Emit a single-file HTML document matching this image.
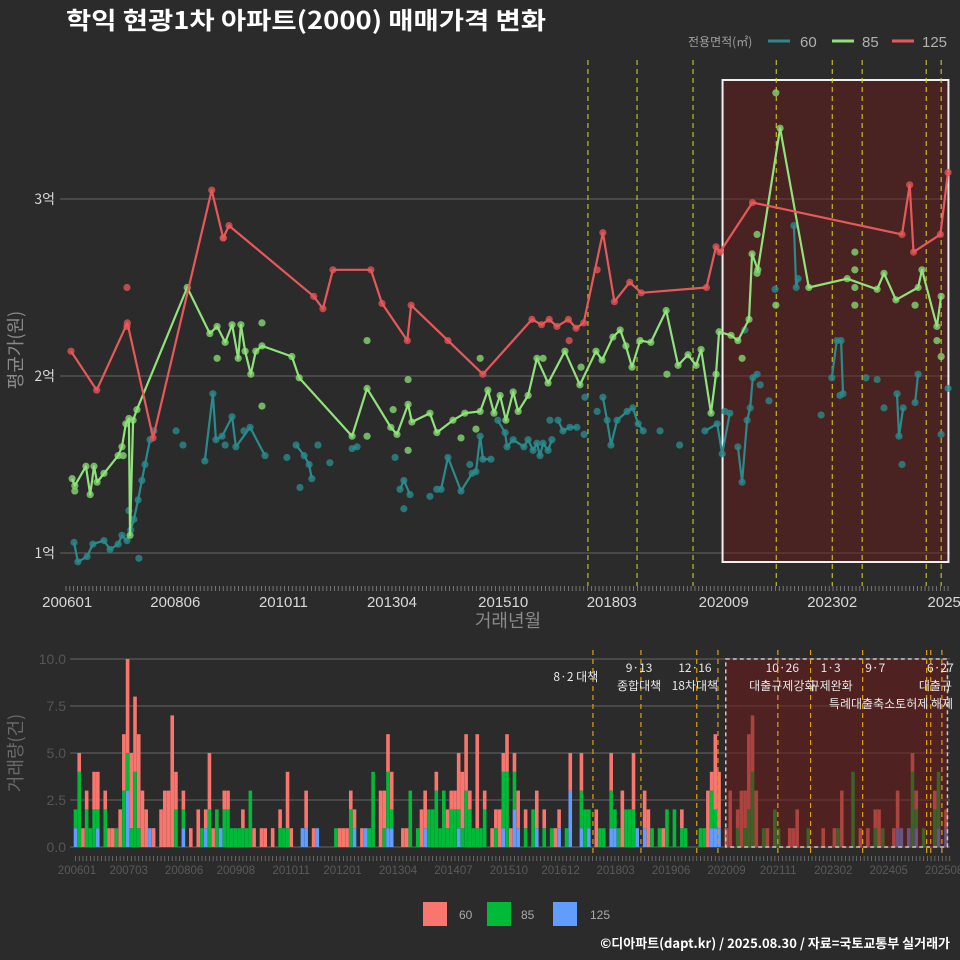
<!DOCTYPE html>
<html><head><meta charset="utf-8">
<style>
html,body{margin:0;padding:0;background:#2b2b2b;}
svg{display:block;font-family:"Liberation Sans","Noto Sans CJK KR",sans-serif;}
</style></head>
<body>
<svg id="chart" width="960" height="960" viewBox="0 0 960 960">
<rect x="0" y="0" width="960" height="960" fill="#2b2b2b"/>
<text x="66" y="29" fill="#ffffff" font-size="24" font-weight="bold" font-family="'Noto Sans CJK KR',sans-serif" textLength="480" lengthAdjust="spacingAndGlyphs">학익 현광1차 아파트(2000) 매매가격 변화</text>
<g>
<text x="688" y="46" fill="#a0a0a0" font-size="12" font-family="'Noto Sans CJK KR',sans-serif">전용면적(㎡)</text>
<line x1="768" y1="41" x2="790" y2="41" stroke="#2a8a8c" stroke-width="3"/>
<text x="800" y="47" fill="#b0b0b0" font-size="15">60</text>
<line x1="832" y1="41" x2="854" y2="41" stroke="#8fe37a" stroke-width="3"/>
<text x="862" y="47" fill="#b0b0b0" font-size="15">85</text>
<line x1="892" y1="41" x2="914" y2="41" stroke="#e8585a" stroke-width="3"/>
<text x="922" y="47" fill="#b0b0b0" font-size="15">125</text>
</g>
<g id="topChart"></g>
<g id="botChart"></g>
<g>
<rect x="423" y="902" width="24" height="24" fill="#f8766d"/>
<text x="459" y="919" fill="#aaa" font-size="12">60</text>
<rect x="487" y="902" width="24" height="24" fill="#00ba38"/>
<text x="521" y="919" fill="#aaa" font-size="12">85</text>
<rect x="553" y="902" width="24" height="24" fill="#619cff"/>
<text x="590" y="919" fill="#aaa" font-size="12">125</text>
</g>
<text x="950" y="948" text-anchor="end" fill="#ffffff" font-size="13" font-weight="bold" font-family="'Noto Sans CJK KR',sans-serif">©디아파트(dapt.kr) / 2025.08.30 / 자료=국토교통부 실거래가</text>
</svg>
<script>
var tealLine = [[2.1,1.06],[3.1,0.95],[5.5,0.98],[7,1.05],[9.9,1.07],[11.5,1.02],[13.6,1.05],[14.6,1.10],[15.9,1.07],[16.9,1.13],[17.7,1.19],[18.8,1.30],[19.8,1.41],[20.6,1.50],[21.9,1.64],null,
[36.2,1.52],[38.3,1.90],[39.1,1.64],[40.7,1.66],[43.3,1.77],[44.3,1.60],[48,1.71],[51.9,1.55],null,
[60,1.61],[62.1,1.55],[63.4,1.50],[64.1,1.42],null,[74.6,1.59],[75.9,1.60],null,
[87.1,1.36],[88.1,1.41],[89.7,1.33],null,
[97.8,1.36],[99.6,1.54],[103,1.35],[105.9,1.45],[106.9,1.46],[108,1.66],[108.7,1.53],[110.8,1.53],null,
[112.6,1.75],[114.5,1.68],[115,1.60],[116.6,1.64],[119.4,1.60],[120.5,1.64],[121.8,1.58],[122.8,1.62],[123.6,1.55],[124.4,1.62],[125.7,1.58],[126.7,1.64],null,
[128.3,1.75],[129.6,1.69],[131.4,1.71],[133.2,1.71],null,
[140,1.88],[141.1,1.75],[142.1,1.61],[143.7,1.75],[146.3,1.80],[147.8,1.82],[149.2,1.73],[150.5,1.69],null,
[166.6,1.69],[169.8,1.73],[171.1,1.56],[173.1,1.79],null,
[175.2,1.60],[176.3,1.40],[177.6,1.75],[178.4,1.82],[179.1,1.99],[180.2,2.01],null,
[189.8,2.85],[190.4,2.50],[190.9,2.55],null,
[199.7,1.99],[201,2.20],[202.1,2.20],[202.6,1.90],null,
[216.7,1.90],[217.2,1.66],[218.3,1.82],null,[221.4,1.85],[222.2,2.01]];
var tealDots = [[16.4,1.24],[19,0.97],[22.9,1.69],[28.7,1.69],[30.5,1.61],[41.5,1.61],[46.4,1.69],[65.7,1.61],[68.8,1.51],[61,1.37],[57.6,1.54],[85.8,1.54],[94.9,1.32],[88.1,1.25],[96.7,1.36],[105.3,1.50],[126.2,1.75],[135.1,1.67],[135.3,1.88],[138.5,1.80],[154.9,1.69],[160,1.61],[171.8,1.80],[183.3,1.86],[181,1.95],[177,2.26],[184.9,2.49],[208.6,1.99],[211.5,1.98],[213.3,1.82],[218,1.50],[228.2,1.67],[230,1.93],[196.9,1.78],[201.8,1.89]];
var greenLine = [[1.6,1.42],[2.3,1.38],[5.2,1.49],[6.3,1.33],[7.3,1.49],[8.1,1.40],[9.9,1.45],[13.6,1.55],[14.6,1.60],[15.6,1.73],[16.4,1.76],[16.7,1.10],[17.5,1.75],[18.5,1.81],[31.6,2.50],[37.5,2.24],[39.4,2.28],[41.5,2.19],[43.3,2.29],[44.9,2.10],[45.6,2.29],[46.7,2.14],[48.2,2.01],[49.5,2.14],[51.1,2.17],[58.9,2.11],[60.8,1.99],[74.6,1.66],[78.5,1.93],[84.7,1.71],[86.3,1.67],[89.2,1.84],[90.2,1.74],[94.9,1.79],[96.7,1.68],[100.9,1.75],[104,1.79],[108,1.80],[110,1.92],[111.6,1.79],[113.2,1.89],[114.7,1.75],[116.6,1.91],[117.9,1.80],[120.5,1.89],[122.8,2.10],[125.7,1.96],[130.1,2.14],[134,1.95],[138.2,2.14],[139.8,2.09],[142.6,2.22],[144.5,2.26],[146,2.17],[147.6,2.05],[149.7,2.20],[152.5,2.19],[156.5,2.37],[159.6,2.06],[162.2,2.12],[164.3,2.06],[165.6,2.15],[168.2,1.79],[169.5,2.01],[170.3,2.25],[173.4,2.23],[175.2,2.20],[178.1,2.32],[178.9,2.69],[180.4,2.60],[186.2,3.40],[193.7,2.50],[203.7,2.55],[211.5,2.49],[213.3,2.58],[216.4,2.43],[222.2,2.50],[223.2,2.60],[227.1,2.28],[228.2,2.45]];
var greenDots = [[39.4,2.10],[51.1,2.30],[51.1,1.83],[78.5,2.20],[78.5,1.66],[14.9,1.55],[2.3,1.35],[108,2.10],[89.2,1.98],[89.2,1.58],[85.3,1.81],[103,1.65],[106.9,1.70],[124.4,2.10],[134.3,2.05],[156.7,2.01],[185.1,3.60],[180.2,2.80],[185.1,2.40],[176.3,2.10],[205.7,2.70],[205.7,2.60],[205.7,2.50],[205.7,2.40],[221.4,2.40],[227.1,2.20],[228.2,2.11],[180.2,2.58]];
var redLine = [[1.3,2.14],[8,1.92],[16,2.30],[22.7,1.65],[38,3.05],[41,2.78],[42.5,2.85],[64.6,2.45],[67,2.38],[69.6,2.60],[79.5,2.60],[82.4,2.41],[89,2.20],[90,2.40],[99.6,2.20],[108.7,2.01],[121.5,2.32],[124,2.29],[126,2.32],[128,2.28],[131,2.32],[133,2.27],[135,2.30],[140,2.81],[143,2.42],[147,2.53],[150,2.47],[167,2.50],[169.5,2.73],[170.5,2.70],[179,2.98],[218,2.80],[220,3.08],[221,2.70],[228,2.80],[230,3.15]];
var redDots = [[15.9,2.50],[138.5,2.60],[131.2,2.20],[15.9,2.28],[41,2.78]];
var topYTicks = [1,2,3];
var topYLabels = ["1억","2억","3억"];
var topXTickMonths = [0.3,28.5,56.7,85,114,142.3,171.5,199.8,229];
var topXLabels = ["200601","200806","201011","201304","201510","201803","202009","202302","2025"];
var topPolicyMonths = [136.1,148.9,163.5,185.2,199.8,207.6,224.3,228.2];
var topHighlight = [171.2, 230.1];

// bottom chart: [month index, count] per series
var vol60 = [[1,1],[2,1],[3,1],[5,2],[6,2],[8,1],[9,1],[10,1],[12,2],[13,3],[14,5],[15,4],[16,4],[17,5],[18,3],[19,2],[21,1],[23,2],[24,3],[25,3],[26,7],[27,2],[29,1],[31,1],[33,2],[35,1],[36,3],[37,1],[40,1],[41,1],[45,1],[48,1],[50,1],[51,1],[53,1],[55,1],[57,3],[58,1],[62,2],[64,1],[71,1],[72,1],[73,1],[74,1],[75,1],[77,1],[82,3],[83,2],[84,2],[85,2],[88,1],[89,1],[93,2],[94,2],[97,1],[100,1],[101,1],[102,1],[103,3],[104,3],[105,3],[106,1],[108,5],[110,1],[112,1],[113,1],[114,2],[115,1],[116,2],[117,1],[118,1],[119,2],[121,1],[124,2],[126,1],[129,1],[130,1],[133,2],[136,2],[140,2],[144,2],[147,3],[150,3],[153,2],[154,2],[158,1],[163,1],[170,3],[171,1],[172,4],[173,3],[175,1],[176,3],[178,1],[179,3],[180,2],[181,4],[182,3],[183,3],[186,1],[192,1],[193,1],[194,2],[201,1],[204,1],[206,3],[211,1],[213,1],[215,1],[216,2],[220,1],[221,2],[225,1],[226,1],[231,1],[234,1]];
var vol85 = [[0,1],[1,4],[3,2],[4,1],[5,2],[6,1],[8,2],[11,1],[13,3],[14,2],[15,1],[16,4],[17,1],[27,2],[29,1],[34,1],[36,2],[38,2],[40,2],[41,2],[42,1],[43,1],[44,1],[45,1],[46,1],[47,3],[55,1],[56,1],[57,1],[70,1],[74,2],[79,1],[80,4],[83,1],[84,3],[85,1],[90,3],[92,1],[95,2],[96,2],[97,3],[98,1],[99,3],[100,1],[101,2],[102,2],[103,1],[104,1],[105,3],[106,2],[107,1],[108,1],[109,1],[110,2],[113,1],[115,3],[116,4],[118,2],[121,1],[123,2],[126,1],[128,1],[132,1],[136,2],[137,2],[138,1],[141,1],[142,1],[144,2],[145,1],[146,1],[148,2],[149,2],[150,2],[155,1],[157,1],[159,2],[161,2],[163,1],[164,1],[168,1],[169,1],[171,2],[172,1],[178,1],[180,1],[181,2],[182,4],[185,1],[188,2],[189,1],[197,1],[205,1],[209,4],[215,1],[217,1],[225,4],[226,1],[228,1],[231,2],[232,3]];
var vol125 = [[0,1],[6,1],[14,3],[20,1],[29,1],[35,1],[39,1],[61,1],[62,1],[65,1],[75,1],[78,1],[84,1],[85,1],[94,1],[103,1],[115,1],[118,2],[119,1],[124,1],[130,1],[133,3],[136,1],[138,1],[144,1],[145,1],[151,1],[153,1],[171,1],[172,1],[173,1],[221,1],[222,1],[224,1],[226,1],[232,1],[234,1]];
var botYTicks = [0,2.5,5,7.5,10];
var botYLabels = ["0.0","2.5","5.0","7.5","10.0"];
var botXTickMonths = [0.4,14.3,29.2,43.1,58,71.8,86.7,101.6,116.5,130.4,145.2,160.1,175,188.9,203.7,218.6,233.5];
var botXLabels = ["200601","200703","200806","200908","201011","201201","201304","201407","201510","201612","201803","201906","202009","202111","202302","202405","202508"];
var botPolicyMonths = [139.1,152,167,172.7,188.8,197.6,211.6,228.8,229.9,232.9];
var botHighlight = [174.8, 234.4];
var annoMonths = [134.5,151.5,166.5,190,203,215,232.5];
var annoTop = ["8·2 대책","9·13","12·16","10·26","1·3","9·7","6·27"];
var annoBottom = ["","종합대책","18차대책","대출규제강화","규제완화","특례대출축소토허제 해제","대출규"];

var NS = "http://www.w3.org/2000/svg";
function mk(tag, attrs, parent){var e=document.createElementNS(NS,tag);for(var k in attrs)e.setAttribute(k,attrs[k]);parent.appendChild(e);return e;}
function xT(m){return 66+3.835*m;}
function yT(v){return 553-(v-1)*177;}
function xB(m){return 75.5+3.72*m;}
function yB(v){return 847-v*18.8;}

var topG = document.getElementById('topChart');
var botG = document.getElementById('botChart');

topYTicks.forEach(function(v,i){
  var l=mk('line',{x1:60,x2:950,y1:yT(v),y2:yT(v),stroke:'#5a5a5a','stroke-width':1.2},topG);
  
  
  var t=mk('text',{x:55,y:yT(v)+5,'text-anchor':'end',fill:'#d8d8d8','font-size':14,'font-family':"'Noto Sans CJK KR',sans-serif"},topG);
  t.textContent=topYLabels[i];
  
  
});
var hr=mk('rect',{x:xT(topHighlight[0]),y:80,width:xT(topHighlight[1])-xT(topHighlight[0]),height:482,fill:'rgba(110,25,25,0.45)',stroke:'#f0f0f0','stroke-width':2},topG);


topPolicyMonths.forEach(function(m){
  var l=mk('line',{x1:xT(m),x2:xT(m),y1:60,y2:586,stroke:'#e0d820','stroke-width':1,'stroke-dasharray':'5,4'},topG);
  
  
});
for(var mm=0;mm<=230;mm++){
  var tk=mk('line',{x1:xT(mm),x2:xT(mm),y1:586,y2:591,stroke:'#888','stroke-width':0.8},topG);
  
  
}
topXTickMonths.forEach(function(m,i){
  var t=mk('text',{x:xT(m),y:607,'text-anchor':'middle',fill:'#d8d8d8','font-size':15},topG);
  t.textContent=topXLabels[i];
  
  
});
var xt=mk('text',{x:508,y:627,'text-anchor':'middle',fill:'#8a8a8a','font-size':18,'font-family':"'Noto Sans CJK KR',sans-serif"},topG);
xt.textContent='거래년월';


var yt=mk('text',{x:0,y:0,'text-anchor':'middle',fill:'#8a8a8a','font-size':18,transform:'translate(22,350) rotate(-90)','font-family':"'Noto Sans CJK KR',sans-serif"},topG);
yt.textContent='평균가(원)';



function drawSeries(line, dots, lineColor, dotColor, name){
  var segs=[],cur=[];
  line.forEach(function(p){ if(p===null){ if(cur.length)segs.push(cur); cur=[]; } else cur.push(p); });
  if(cur.length)segs.push(cur);
  dots.forEach(function(p){
    var c=mk('circle',{cx:xT(p[0]),cy:yT(p[1]),r:3.6,fill:dotColor,opacity:0.8},topG);
    
    
  });
  segs.forEach(function(s){
    s.forEach(function(p){
      var c=mk('circle',{cx:xT(p[0]),cy:yT(p[1]),r:3.6,fill:dotColor,opacity:0.8},topG);
      
      
    });
    var d=s.map(function(p,i){return (i?'L':'M')+xT(p[0]).toFixed(1)+','+yT(p[1]).toFixed(1);}).join('');
    var pl=mk('path',{d:d,fill:'none',stroke:lineColor,'stroke-width':2.2,'stroke-linejoin':'round'},topG);
    
    
  });
}
drawSeries(tealLine,tealDots,'#2a8a8c','#2a8a8c','series-60');
drawSeries(greenLine,greenDots,'#8fe37a','#86d873','series-85');
drawSeries(redLine,redDots,'#e8585a','#e05456','series-125');

botYTicks.forEach(function(v,i){
  var l=mk('line',{x1:70,x2:950,y1:yB(v),y2:yB(v),stroke:'#5a5a5a','stroke-width':1.2},botG);
  
  
  var t=mk('text',{x:66,y:yB(v)+5,'text-anchor':'end',fill:'#555','font-size':14},botG);
  t.textContent=botYLabels[i];
  
  
});
var by=mk('text',{x:0,y:0,'text-anchor':'middle',fill:'#6a6a6a','font-size':18,transform:'translate(22,753) rotate(-90)','font-family':"'Noto Sans CJK KR',sans-serif"},botG);
by.textContent='거래량(건)';



var stackBase = {};
[[vol125,'#619cff','bar-125'],[vol85,'#00ba38','bar-85'],[vol60,'#f8766d','bar-60']].forEach(function(sr){
  sr[0].forEach(function(p){
    var m=p[0], c=p[1], b=stackBase[m]||0;
    if(!c)return;
    var r=mk('rect',{x:xB(m)-1.8,y:yB(b+c),width:3.6,height:c*18.8,fill:sr[1]},botG);
    
    
    stackBase[m]=b+c;
  });
});
var bh=mk('rect',{x:xB(botHighlight[0]),y:yB(10),width:xB(botHighlight[1])-xB(botHighlight[0]),height:188,fill:'rgba(110,25,25,0.55)',stroke:'#c8c8c8','stroke-width':1.5,'stroke-dasharray':'4,3'},botG);


botPolicyMonths.forEach(function(m){
  var l=mk('line',{x1:xB(m),x2:xB(m),y1:650,y2:857,stroke:'#e0a010','stroke-width':1.2,'stroke-dasharray':'5,4'},botG);
  
  
});
annoMonths.forEach(function(m,i){
  var t=mk('text',{x:xB(m),y:i===0?681:672,'text-anchor':'middle',fill:'#e8e8e8','font-size':12,'font-family':"'Noto Sans CJK KR',sans-serif"},botG);
  t.textContent=annoTop[i];
  
  
  if(annoBottom[i]){
    var yy = i===5?708:690;
    var t2=mk('text',{x:i===6?952:(i===5?891:xB(m)),y:yy,'text-anchor':i===6?'end':'middle',fill:'#e8e8e8','font-size':12,'font-family':"'Noto Sans CJK KR',sans-serif"},botG);
    t2.textContent=annoBottom[i];
    
    
  }
});
for(var k=0;k<=235;k++){
  var tk2=mk('line',{x1:xB(k),x2:xB(k),y1:856,y2:861,stroke:'#777','stroke-width':0.8},botG);
  
  
}
botXTickMonths.forEach(function(m,i){
  var t=mk('text',{x:xB(m),y:874,'text-anchor':'middle',fill:'#5a5a5a','font-size':11.5},botG);
  t.textContent=botXLabels[i];
  
  
});
</script>
</body></html>
